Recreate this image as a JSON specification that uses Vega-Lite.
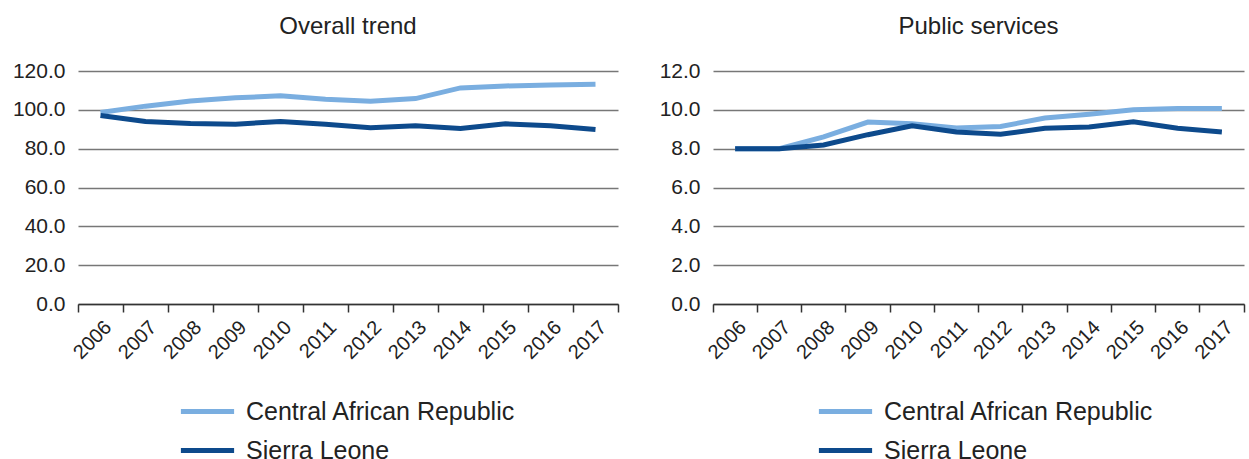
{
  "$schema": "https://vega.github.io/schema/vega-lite/v6.json",
  "padding": {"left": 12, "top": 15, "right": 2, "bottom": 0},
  "spacing": 40,
  "config": {
    "font": "Liberation Sans",
    "view": {"stroke": null},
    "axis": {"labelFontSize": 21, "labelColor": "#222222", "labelFont": "Liberation Sans"},
    "legend": {"labelFontSize": 25, "labelColor": "#222222", "labelLimit": 0}
  },
  "datasets": {
    "overall": [
      {"year": 2006, "country": "Central African Republic", "value": 98.6},
      {"year": 2007, "country": "Central African Republic", "value": 101.9},
      {"year": 2008, "country": "Central African Republic", "value": 104.6},
      {"year": 2009, "country": "Central African Republic", "value": 106.2},
      {"year": 2010, "country": "Central African Republic", "value": 107.2},
      {"year": 2011, "country": "Central African Republic", "value": 105.5},
      {"year": 2012, "country": "Central African Republic", "value": 104.4},
      {"year": 2013, "country": "Central African Republic", "value": 105.8},
      {"year": 2014, "country": "Central African Republic", "value": 111.3},
      {"year": 2015, "country": "Central African Republic", "value": 112.3},
      {"year": 2016, "country": "Central African Republic", "value": 112.8},
      {"year": 2017, "country": "Central African Republic", "value": 113.2},
      {"year": 2006, "country": "Sierra Leone", "value": 97.1},
      {"year": 2007, "country": "Sierra Leone", "value": 94.0},
      {"year": 2008, "country": "Sierra Leone", "value": 93.0},
      {"year": 2009, "country": "Sierra Leone", "value": 92.6},
      {"year": 2010, "country": "Sierra Leone", "value": 94.0},
      {"year": 2011, "country": "Sierra Leone", "value": 92.6},
      {"year": 2012, "country": "Sierra Leone", "value": 90.8},
      {"year": 2013, "country": "Sierra Leone", "value": 91.8},
      {"year": 2014, "country": "Sierra Leone", "value": 90.4},
      {"year": 2015, "country": "Sierra Leone", "value": 92.8},
      {"year": 2016, "country": "Sierra Leone", "value": 91.8},
      {"year": 2017, "country": "Sierra Leone", "value": 89.9}
    ],
    "public": [
      {"year": 2006, "country": "Central African Republic", "value": 8.0},
      {"year": 2007, "country": "Central African Republic", "value": 8.0},
      {"year": 2008, "country": "Central African Republic", "value": 8.61},
      {"year": 2009, "country": "Central African Republic", "value": 9.37},
      {"year": 2010, "country": "Central African Republic", "value": 9.28},
      {"year": 2011, "country": "Central African Republic", "value": 9.07},
      {"year": 2012, "country": "Central African Republic", "value": 9.14},
      {"year": 2013, "country": "Central African Republic", "value": 9.58},
      {"year": 2014, "country": "Central African Republic", "value": 9.77},
      {"year": 2015, "country": "Central African Republic", "value": 10.0},
      {"year": 2016, "country": "Central African Republic", "value": 10.07},
      {"year": 2017, "country": "Central African Republic", "value": 10.07},
      {"year": 2006, "country": "Sierra Leone", "value": 8.0},
      {"year": 2007, "country": "Sierra Leone", "value": 8.0},
      {"year": 2008, "country": "Sierra Leone", "value": 8.19},
      {"year": 2009, "country": "Sierra Leone", "value": 8.72},
      {"year": 2010, "country": "Sierra Leone", "value": 9.18},
      {"year": 2011, "country": "Sierra Leone", "value": 8.86},
      {"year": 2012, "country": "Sierra Leone", "value": 8.74},
      {"year": 2013, "country": "Sierra Leone", "value": 9.05},
      {"year": 2014, "country": "Sierra Leone", "value": 9.12},
      {"year": 2015, "country": "Sierra Leone", "value": 9.39},
      {"year": 2016, "country": "Sierra Leone", "value": 9.05},
      {"year": 2017, "country": "Sierra Leone", "value": 8.86}
    ]
  },
  "hconcat": [
    {
      "width": 540,
      "height": 233,
      "title": {"text": "Overall trend", "fontSize": 24, "fontWeight": "normal", "offset": 21, "color": "#222222"},
      "data": {"name": "overall"},
      "mark": {"type": "line", "strokeWidth": 5},
      "encoding": {
        "x": {
          "field": "year", "type": "ordinal",
          "scale": {"type": "band", "paddingInner": 0, "paddingOuter": 0},
          "axis": {"title": null, "labelFontSize": 20, "labelAngle": -45, "labelAlign": "right", "labelBaseline": "middle", "bandPosition": 1, "tickExtra": true, "tickSize": 8, "tickColor": "#333333", "tickWidth": 1.5, "domainColor": "#333333", "domainWidth": 1.5, "labelPadding": 12, "labelOffset": 8, "grid": false}
        },
        "y": {
          "field": "value", "type": "quantitative",
          "scale": {"domain": [0, 120], "nice": false},
          "axis": {"title": null, "values": [0, 20, 40, 60, 80, 100, 120], "format": ".1f", "domain": false, "ticks": false, "grid": true, "gridColor": "#777777", "gridWidth": 1.5, "labelPadding": 13}
        },
        "color": {
          "field": "country", "type": "nominal",
          "scale": {"domain": ["Central African Republic", "Sierra Leone"], "range": ["#7AAEE0", "#0D4A8C"]},
          "legend": {"title": null, "orient": "none", "legendX": 107, "legendY": 318, "direction": "vertical", "symbolType": "M-1.33,0H1.33", "symbolSize": 1600, "symbolStrokeWidth": 5, "labelFontSize": 25, "rowPadding": 3, "labelOffset": 16}
        }
      }
    },
    {
      "width": 531,
      "height": 233,
      "title": {"text": "Public services", "fontSize": 24, "fontWeight": "normal", "offset": 21, "color": "#222222"},
      "data": {"name": "public"},
      "mark": {"type": "line", "strokeWidth": 5},
      "encoding": {
        "x": {
          "field": "year", "type": "ordinal",
          "scale": {"type": "band", "paddingInner": 0, "paddingOuter": 0},
          "axis": {"title": null, "labelFontSize": 20, "labelAngle": -45, "labelAlign": "right", "labelBaseline": "middle", "bandPosition": 1, "tickExtra": true, "tickSize": 8, "tickColor": "#333333", "tickWidth": 1.5, "domainColor": "#333333", "domainWidth": 1.5, "labelPadding": 12, "labelOffset": 8, "grid": false}
        },
        "y": {
          "field": "value", "type": "quantitative",
          "scale": {"domain": [0, 12], "nice": false},
          "axis": {"title": null, "values": [0, 2, 4, 6, 8, 10, 12], "format": ".1f", "domain": false, "ticks": false, "grid": true, "gridColor": "#777777", "gridWidth": 1.5, "labelPadding": 13}
        },
        "color": {
          "field": "country", "type": "nominal",
          "scale": {"domain": ["Central African Republic", "Sierra Leone"], "range": ["#7AAEE0", "#0D4A8C"]},
          "legend": {"title": null, "orient": "none", "legendX": 110, "legendY": 318, "direction": "vertical", "symbolType": "M-1.33,0H1.33", "symbolSize": 1600, "symbolStrokeWidth": 5, "labelFontSize": 25, "rowPadding": 3, "labelOffset": 16}
        }
      }
    }
  ],
  "resolve": {"legend": {"color": "independent"}}
}
